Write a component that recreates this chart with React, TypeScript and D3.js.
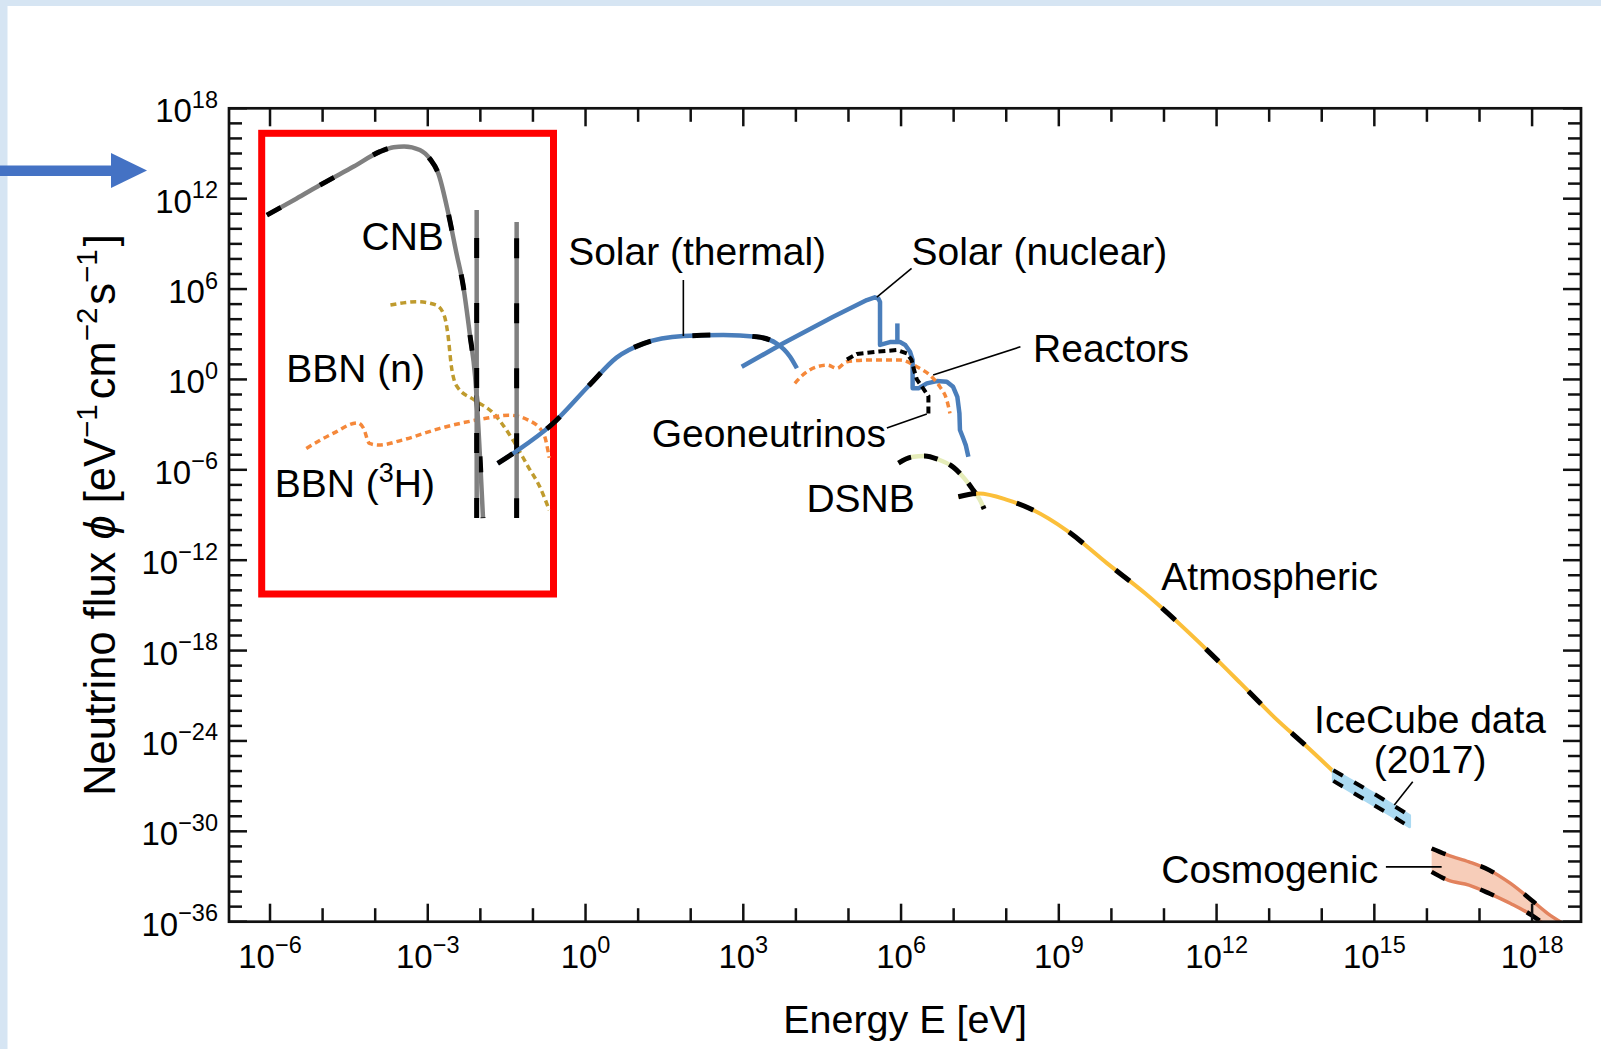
import React from "react";
import * as d3 from "d3";

type P = [number, number];

// ---------- axes (log10 exponents) ----------
const xMajorExp = [-6, -3, 0, 3, 6, 9, 12, 15, 18];
const xMinorExp = d3.range(-6, 19);
const yMajorExp = [18, 12, 6, 0, -6, -12, -18, -24, -30, -36];
const yMinorExp = d3.range(-36, 19);

// ---------- series: [log10 E(eV), log10 flux] ----------
const cnbCurve: P[] = [
  [-6.06, 10.91], [-5.5, 12.0], [-4.99, 13.02], [-4.4, 14.15], [-3.91, 15.12],
  [-3.65, 15.42], [-3.45, 15.47], [-3.15, 15.23], [-2.95, 14.6], [-2.8, 13.68],
  [-2.61, 11.03], [-2.45, 8.3], [-2.33, 6.3], [-2.2, 3.0], [-2.1, 0.2], [-1.95, -9.2],
];
const cnbLineA: P[] = [[-2.07, 11.25], [-2.07, -9.2]];
const cnbLineB: P[] = [[-1.31, 10.46], [-1.31, -9.2]];

const bbnN: P[] = [
  [-3.71, 4.94], [-3.2, 5.16], [-2.84, 4.94], [-2.69, 4.27], [-2.62, 3.06],
  [-2.55, 0.84], [-2.44, -0.49], [-2.11, -1.37], [-1.75, -2.25], [-1.38, -4.03],
  [-1.09, -5.8], [-0.87, -7.13], [-0.69, -8.67],
];
const bbnT: P[] = [
  [-5.31, -4.58], [-4.8, -3.58], [-4.33, -2.88], [-4.22, -3.25], [-4.11, -4.25],
  [-3.93, -4.36], [-3.49, -4.03], [-2.77, -3.25], [-1.89, -2.58], [-1.46, -2.37],
  [-1.09, -2.7], [-0.8, -3.58], [-0.69, -5.2],
];

const solarThermal: P[] = [
  [-1.67, -5.57], [-1.31, -4.75], [-0.66, -3.05], [0.08, -0.35], [0.59, 1.45],
  [1.1, 2.38], [1.86, 2.88], [2.62, 2.95], [3.25, 2.83], [3.63, 2.4],
  [3.89, 1.51], [4.02, 0.74],
];
const solarNuclear: P[] = [
  [2.97, 0.84], [3.76, 2.4], [4.71, 4.16], [5.35, 5.27], [5.5, 5.45], [5.57, 5.36],
  [5.6, 5.14], [5.6, 2.29], [5.79, 2.48], [5.98, 2.48], [6.08, 2.29], [6.17, 1.84],
  [6.22, 1.29], [6.22, -0.59], [6.33, -0.59], [6.49, -0.26], [6.68, -0.11],
  [6.87, -0.15], [6.99, -0.49], [7.07, -1.15], [7.11, -2.25], [7.12, -3.36],
  [7.18, -3.89], [7.23, -4.36], [7.28, -5.13],
];
const solarBeLine: P[] = [[5.93, 2.5], [5.93, 3.72]];

const reactors: P[] = [
  [3.98, -0.26], [4.15, 0.35], [4.4, 0.84], [4.6, 0.95], [4.78, 0.74], [4.97, 1.18],
  [5.41, 1.29], [5.98, 1.29], [6.3, 0.84], [6.58, 0.18], [6.74, -0.49],
  [6.87, -1.37], [6.93, -2.25],
];
const geo: P[] = [
  [4.97, 1.33], [5.16, 1.69], [5.54, 1.84], [5.92, 1.95], [6.11, 1.73], [6.2, 1.29],
  [6.25, 0.6], [6.3, 0.0], [6.42, -0.6], [6.52, -1.1], [6.52, -2.5],
];
const dsnb: P[] = [
  [5.95, -5.55], [6.2, -5.15], [6.45, -5.08], [6.7, -5.3], [7.0, -5.85],
  [7.2, -6.55], [7.37, -7.34], [7.5, -8.0], [7.58, -8.6],
];
const atmospheric: P[] = [
  [7.09, -7.79], [7.48, -7.57], [8.03, -8.01], [8.51, -8.67], [9.14, -10.0],
  [9.92, -12.21], [10.64, -14.2], [11.82, -17.97], [12.46, -20.18], [13.09, -22.4],
  [13.72, -24.39], [14.38, -26.55],
];
const iceE = [14.22, 14.82, 15.3, 15.67];
const iceHi = [-25.95, -27.15, -28.15, -28.95];
const iceLo = [-26.65, -27.9, -28.9, -29.7];

const cosE = [16.09, 16.4, 16.8, 17.19, 17.59, 17.99, 18.3, 18.58];
const cosHi = [-31.14, -31.58, -32.03, -32.58, -33.46, -34.57, -35.46, -36.1];
const cosLo = [-32.69, -33.24, -33.57, -34.13, -34.79, -35.57, -36.4, -37.5];

// ---------- annotations (data coords) ----------
const leaders: P[][] = [
  [[1.86, 6.6], [1.86, 2.88]],
  [[6.2, 7.38], [5.54, 5.47]],
  [[8.27, 2.17], [6.61, 0.29]],
  [[5.73, -3.23], [6.49, -2.3]],
  [[15.73, -26.71], [15.38, -28.26]],
  [[15.22, -32.36], [16.28, -32.36]],
];
const labelText = ["CNB", "Solar (thermal)", "Solar (nuclear)", "Reactors", "Geoneutrinos", "DSNB", "Atmospheric", "Cosmogenic", "BBN (n)"];
const labelPos: P[] = [
  [-4.26, 8.59], [-0.33, 7.59], [6.2, 7.59], [8.51, 1.17], [1.26, -4.47],
  [4.2, -8.79], [10.95, -13.99], [10.95, -33.46], [-5.69, -0.15],
];

const FONT = "'Liberation Sans', Arial, Helvetica, sans-serif";
const L = 229, R = 1581, T = 108.3, B = 921.7;

const x = d3.scaleLog().domain([Math.pow(10, -6.78), Math.pow(10, 18.93)]).range([L, R]);
const y = d3.scaleLog().domain([1e-36, 1e18]).range([B, T]);
const X = (e: number) => x(Math.pow(10, e));
const Y = (e: number) => y(Math.pow(10, e));

const mk = (curve: any) =>
  d3.line<P>().x((d) => X(d[0])).y((d) => Y(d[1])).curve(curve);
const smooth = mk(d3.curveMonotoneX);
const straight = mk(d3.curveLinear);

export default function App() {
  const iceArea = d3
    .area<number>()
    .x((_, i) => X(iceE[i]))
    .y0((_, i) => Y(iceLo[i]))
    .y1((_, i) => Y(iceHi[i]))
    .curve(d3.curveMonotoneX)(iceE);
  const cosArea = d3
    .area<number>()
    .x((_, i) => X(cosE[i]))
    .y0((_, i) => Y(cosLo[i]))
    .y1((_, i) => Y(cosHi[i]))
    .curve(d3.curveMonotoneX)(cosE);
  const iceHiP: P[] = iceE.map((e, i) => [e, iceHi[i]]);
  const iceLoP: P[] = iceE.map((e, i) => [e, iceLo[i]]);
  const cosHiP: P[] = cosE.map((e, i) => [e, cosHi[i]]);
  const cosLoP: P[] = cosE.map((e, i) => [e, cosLo[i]]);

  const axisColor = "#111";
  const supStyle = { fontSize: 23.5 };

  return (
    <svg
      width={1601}
      height={1049}
      style={{ position: "fixed", left: 0, top: 0, background: "#fff" }}
      fontFamily={FONT}
    >
      <rect x={0} y={0} width={1601} height={1049} fill="#fff" />
      <rect x={0} y={0} width={1601} height={6} fill="#D6E5F3" />
      <rect x={0} y={0} width={7.5} height={1049} fill="#D6E5F3" />

      {/* blue arrow */}
      <rect x={0} y={165.5} width={112} height={10.5} fill="#4472C4" />
      <polygon points="111,153 147,170.5 111,188" fill="#4472C4" />

      <defs>
        <clipPath id="plot">
          <rect x={L} y={T} width={R - L} height={B - T} />
        </clipPath>
      </defs>

      {/* red highlight box */}
      <rect x={261.7} y={133.3} width={291.8} height={460.7} fill="none" stroke="#FF0000" strokeWidth={7} />

      <g clipPath="url(#plot)" fill="none" strokeLinejoin="round">
        {/* BBN */}
        <path d={smooth(bbnN)!} stroke="#BF9B2E" strokeWidth={3.5} strokeDasharray="6 4" />
        <path d={smooth(bbnT)!} stroke="#F5883A" strokeWidth={3.5} strokeDasharray="6 4" />
        {/* CNB */}
        <path d={smooth(cnbCurve)!} stroke="#808080" strokeWidth={4.5} />
        <path d={smooth(cnbCurve)!} stroke="#000" strokeWidth={5} strokeDasharray="16 45" />
        <path d={straight(cnbLineA)!} stroke="#808080" strokeWidth={4.5} />
        <path d={straight(cnbLineA)!} stroke="#000" strokeWidth={5} strokeDasharray="20 45" strokeDashoffset={37} />
        <path d={straight(cnbLineB)!} stroke="#808080" strokeWidth={4.5} />
        <path d={straight(cnbLineB)!} stroke="#000" strokeWidth={5} strokeDasharray="20 45" strokeDashoffset={48.7} />
        {/* Solar */}
        <path d={smooth(solarThermal)!} stroke="#4A7EBB" strokeWidth={4.5} />
        <path d={smooth(solarThermal)!} stroke="#000" strokeWidth={5} strokeDasharray="18 42" />
        <path d={straight(solarNuclear)!} stroke="#4A7EBB" strokeWidth={4.5} />
        <path d={straight(solarBeLine)!} stroke="#4A7EBB" strokeWidth={4.5} />
        {/* Reactors & geo */}
        <path d={smooth(reactors)!} stroke="#F5883A" strokeWidth={3.5} strokeDasharray="6 4" />
        <path d={straight(geo)!} stroke="#000" strokeWidth={4} strokeDasharray="7 4" />
        {/* DSNB */}
        <path d={smooth(dsnb)!} stroke="#E5ECB8" strokeWidth={4.5} />
        <path d={smooth(dsnb)!} stroke="#000" strokeWidth={5} strokeDasharray="14 13" />
        {/* Atmospheric */}
        <path d={smooth(atmospheric)!} stroke="#FBBF3A" strokeWidth={4} />
        <path d={smooth(atmospheric)!} stroke="#000" strokeWidth={5} strokeDasharray="18 42" />
        {/* IceCube */}
        <path d={iceArea!} fill="#ABDAF2" stroke="#ABDAF2" strokeWidth={3} />
        <path d={smooth(iceHiP)!} stroke="#000" strokeWidth={4} strokeDasharray="11 13" />
        <path d={smooth(iceLoP)!} stroke="#000" strokeWidth={4} strokeDasharray="11 13" />
        {/* Cosmogenic */}
        <path d={cosArea!} fill="#F7CDB9" stroke="none" />
        <path d={smooth(cosHiP)!} stroke="#E2825D" strokeWidth={3.5} />
        <path d={smooth(cosLoP)!} stroke="#E2825D" strokeWidth={3.5} />
        <path d={smooth(cosHiP)!} stroke="#000" strokeWidth={4.5} strokeDasharray="15 37" />
        <path d={smooth(cosLoP)!} stroke="#000" strokeWidth={4.5} strokeDasharray="15 37" />
      </g>

      {/* leader lines */}
      {leaders.map((l, i) => (
        <path key={"ld" + i} d={straight(l)!} stroke="#000" strokeWidth={1.6} fill="none" />
      ))}

      {/* labels */}
      {labelText.map((t, i) => (
        <text key={"lb" + i} x={X(labelPos[i][0])} y={Y(labelPos[i][1])} fontSize={39} fill="#000">
          {t}
        </text>
      ))}
      <text x={X(-5.91)} y={Y(-7.79)} fontSize={39} fill="#000">
        BBN (<tspan dy={-15} fontSize={27}>3</tspan>
        <tspan dy={15}>H)</tspan>
      </text>
      <text x={X(16.06)} y={Y(-23.5)} fontSize={39} textAnchor="middle" fill="#000">
        IceCube data
      </text>
      <text x={X(16.06)} y={Y(-26.16)} fontSize={39} textAnchor="middle" fill="#000">
        (2017)
      </text>

      {/* frame */}
      <rect x={L} y={T} width={R - L} height={B - T} fill="none" stroke={axisColor} strokeWidth={2.7} />

      {/* x ticks (bottom & top) */}
      {xMinorExp.map((e) => {
        const len = xMajorExp.includes(e) ? 18 : 13.5;
        const xx = X(e);
        return (
          <g key={"xt" + e} stroke={axisColor} strokeWidth={2.5}>
            <line x1={xx} x2={xx} y1={B} y2={B - len} />
            <line x1={xx} x2={xx} y1={T} y2={T + len} />
          </g>
        );
      })}
      {/* y ticks (left & right) */}
      {yMinorExp.map((e) => {
        const len = yMajorExp.includes(e) ? 18 : 13;
        const yy = Y(e);
        return (
          <g key={"yt" + e} stroke={axisColor} strokeWidth={2.5}>
            <line x1={L} x2={L + len} y1={yy} y2={yy} />
            <line x1={R} x2={R - len} y1={yy} y2={yy} />
          </g>
        );
      })}

      {/* x tick labels */}
      {xMajorExp.map((e) => (
        <text key={"xl" + e} x={X(e)} y={968} fontSize={33} textAnchor="middle" fill="#000">
          10<tspan dy={-15} style={supStyle}>{e < 0 ? "\u2212" + Math.abs(e) : String(e)}</tspan>
        </text>
      ))}
      {/* y tick labels */}
      {yMajorExp.map((e) => (
        <text key={"yl" + e} x={218} y={Y(e) + 14} fontSize={33} textAnchor="end" fill="#000">
          10<tspan dy={-14.5} style={supStyle}>{e < 0 ? "\u2212" + Math.abs(e) : String(e)}</tspan>
        </text>
      ))}

      {/* axis titles */}
      <text x={(L + R) / 2} y={1033} fontSize={39.5} textAnchor="middle" fill="#000">
        Energy E [eV]
      </text>
      <text transform={`translate(115, ${(T + B) / 2}) rotate(-90)`} fontSize={43.5} textAnchor="middle" fill="#000">
        Neutrino flux <tspan fontStyle="italic">{"\u03D5"}</tspan> [eV
        <tspan dy={-18} fontSize={29.5}>{"\u22121"}</tspan>
        <tspan dy={18} dx={5}>cm</tspan>
        <tspan dy={-18} fontSize={29.5}>{"\u22122"}</tspan>
        <tspan dy={18} dx={3}>s</tspan>
        <tspan dy={-18} fontSize={29.5}>{"\u22121"}</tspan>
        <tspan dy={18} dx={3}>]</tspan>
      </text>
    </svg>
  );
}
